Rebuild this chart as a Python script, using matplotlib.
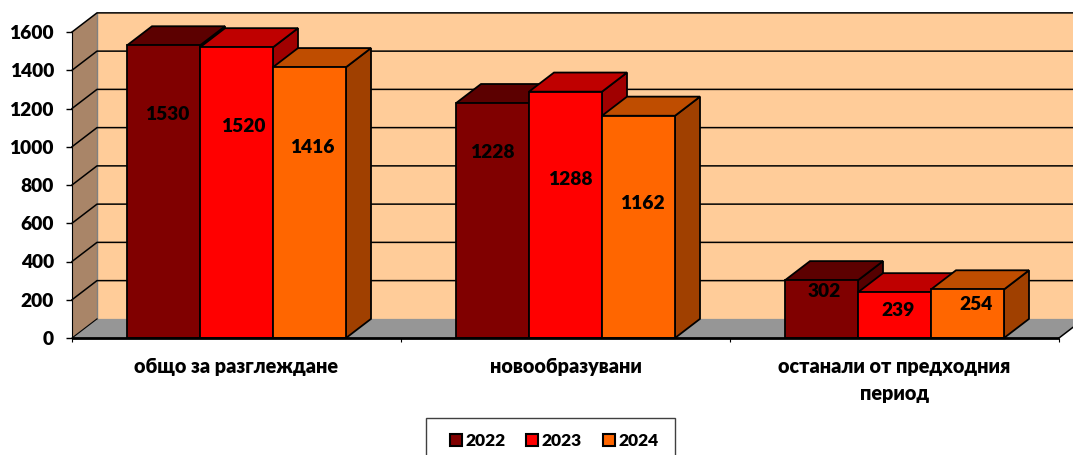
import matplotlib
matplotlib.use('Agg')
import matplotlib.pyplot as plt
from matplotlib.patches import Polygon, Patch, Rectangle

plt.rcParams['font.family'] = ['Lato', 'Open Sans', 'DejaVu Sans']
plt.rcParams['font.weight'] = 'heavy'

categories = ['общо за разглеждане', 'новообразувани', 'останали от предходния\nпериод']
years = ['2022', '2023', '2024']
values_2022 = [1530, 1228, 302]
values_2023 = [1520, 1288, 239]
values_2024 = [1416, 1162, 254]
y_ticks = [0, 200, 400, 600, 800, 1000, 1200, 1400, 1600]

series = [values_2022, values_2023, values_2024]
front_colors = ['#800000', '#FF0000', '#FF6600']
top_colors = ['#5C0000', '#BF0000', '#BF4D00']
side_colors = ['#550000', '#A00000', '#A04000']

# label offsets from the top of each bar, pixels (they were moved by hand in the original)
label_dx = [[4, 7, 3], [0, 5, 4], [3, 3, 8]]
label_dy = [[-69, -79, -80], [-49, -88, -88], [-11, -18, -15]]

W, H = 1073, 455
fig = plt.figure(figsize=(W / 100, H / 100), dpi=100)
ax = fig.add_axes([72 / W, 1 - 338 / H, 987 / W, 306 / H])
ax.set_xlim(0, 3)
ax.set_ylim(0, 1600)
for s in ax.spines.values():
    s.set_visible(False)

# depth of the fake 3d box, in data units
dx = 25 / 987 * 3
dy = 100
bar_w = 73 / 987 * 3
lw = 1.3


def poly(points, color, z):
    ax.add_patch(Polygon(points, closed=True, facecolor=color, edgecolor='black',
                         linewidth=lw, clip_on=False, zorder=z, joinstyle='miter'))


# walls and floor
ax.add_patch(Polygon([(dx, dy), (3.1, dy), (3.1, 1600 + dy), (dx, 1600 + dy)],
                     facecolor='#FFCC99', edgecolor='none', clip_on=False, zorder=1))
ax.add_patch(Polygon([(0, 0), (dx, dy), (dx, 1600 + dy), (0, 1600)],
                     facecolor='#A98568', edgecolor='none', clip_on=False, zorder=1))
ax.add_patch(Polygon([(0, 0), (dx, dy), (3 + dx, dy), (3, 0)],
                     facecolor='#969696', edgecolor='none', clip_on=False, zorder=1))
ax.plot([dx, dx], [dy, 1600 + dy], color='#808080', lw=1, clip_on=False, zorder=2)

for v in y_ticks[1:]:
    ax.plot([0, dx, 3.1], [v, v + dy, v + dy], color='black', lw=1.1, clip_on=False, zorder=2)
ax.plot([0, dx], [0, dy], color='black', lw=0.8, clip_on=False, zorder=2)
ax.plot([3, 3 + dx], [0, dy], color='black', lw=1.1, clip_on=False, zorder=2)
ax.plot([0, 0], [0, 1600], color='black', lw=0.8, clip_on=False, zorder=2)

# bars, left to right so the next one covers the side of the previous
z = 3
for g in range(len(categories)):
    for i, vals in enumerate(series):
        h = vals[g]
        x0 = g + 0.5 + (i - 1.5) * bar_w
        x1 = x0 + bar_w
        poly([(x1, 0), (x1 + dx, dy), (x1 + dx, h + dy), (x1, h)], side_colors[i], z)
        poly([(x0, h), (x0 + dx, h + dy), (x1 + dx, h + dy), (x1, h)], top_colors[i], z)
        poly([(x0, 0), (x1, 0), (x1, h), (x0, h)], front_colors[i], z)
        z += 1

ax.plot([0, 3], [0, 0], color='black', lw=2, clip_on=False, zorder=z, solid_capstyle='butt')

for g in range(len(categories)):
    for i, vals in enumerate(series):
        x = g + 0.5 + (i - 1) * bar_w
        ax.annotate(str(vals[g]), xy=(x, vals[g]), xytext=(label_dx[g][i], label_dy[g][i]),
                    textcoords='offset pixels', ha='center', va='center',
                    fontsize=13.8, color='black', zorder=z + 1)

ax.set_yticks(y_ticks)
ax.set_xticks([0, 1, 2, 3])
ax.set_xticklabels([])
ax.set_xticks([0.5, 1.5, 2.5], categories, minor=True)
ax.tick_params(axis='y', length=4.5, width=1, pad=8.5, labelsize=13.8)
ax.tick_params(axis='x', which='major', length=3, width=0.8)
ax.tick_params(axis='x', which='minor', length=0, pad=13.5, labelsize=14.2)
for t in ax.get_xticklabels(minor=True):
    t.set_linespacing(1.5)
    t.set_va('top')

# legend box runs off the bottom of the picture, so it's drawn apart from the legend
fig.add_artist(Rectangle((426 / W, -10 / H), 249 / W, 47 / H, transform=fig.transFigure,
                         facecolor='white', edgecolor='#404040', linewidth=1))
handles = [Patch(facecolor=c, edgecolor='black', linewidth=1.5) for c in front_colors]
leg = fig.legend(handles, years, ncol=3, loc='center', bbox_to_anchor=(554 / W, 1 - 441 / H),
                 fontsize=12.5, frameon=False,
                 handlelength=0.7, handleheight=0.7, handletextpad=0.2, columnspacing=1.2,
                 borderpad=0, borderaxespad=0)

fig.savefig('out.png', dpi=100)
